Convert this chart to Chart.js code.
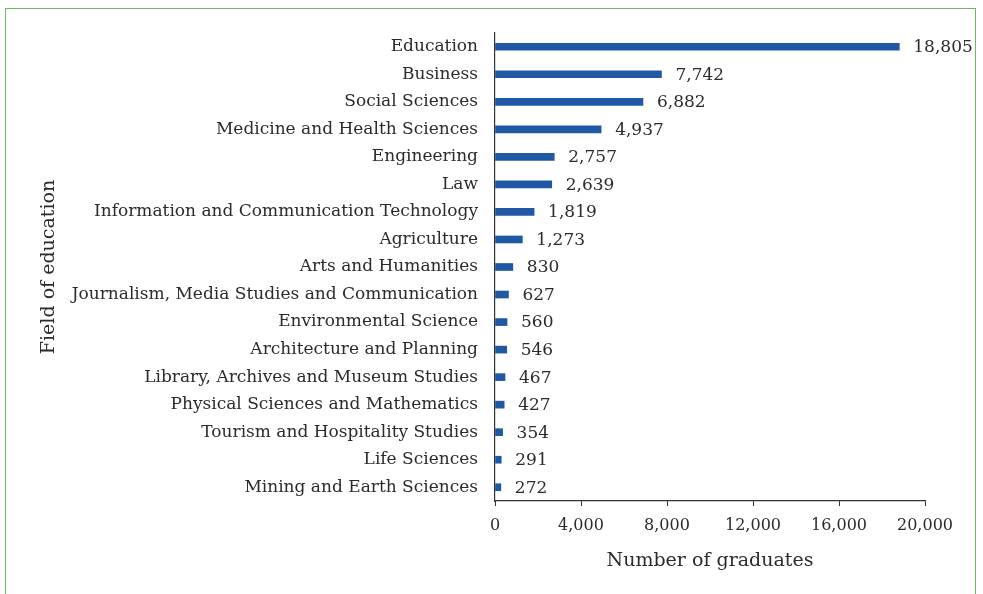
<!DOCTYPE html>
<html>
<head>
<meta charset="utf-8">
<script src="https://cdn.jsdelivr.net/npm/chart.js@4.4.1/dist/chart.umd.min.js"></script>
<style>
html,body{margin:0;padding:0;background:#fff;overflow:hidden}
#wrap{position:relative;width:983px;height:594px}
#frame{position:absolute;left:5px;top:8px;width:971px;height:600px;border:1.5px solid #6cba60;box-sizing:border-box}
canvas{position:absolute;left:0;top:0}
</style>
</head>
<body>
<div id="wrap">
<div id="frame"></div>
<canvas id="c" width="983" height="594"></canvas>
</div>
<script>
const fields = [
  'Education','Business','Social Sciences','Medicine and Health Sciences','Engineering','Law',
  'Information and Communication Technology','Agriculture','Arts and Humanities',
  'Journalism, Media Studies and Communication','Environmental Science','Architecture and Planning',
  'Library, Archives and Museum Studies','Physical Sciences and Mathematics',
  'Tourism and Hospitality Studies','Life Sciences','Mining and Earth Sciences'
]
const graduates = [18805,7742,6882,4937,2757,2639,1819,1273,830,627,560,546,467,427,354,291,272]
const xTicks = [0,4000,8000,12000,16000,20000]

const 字体 = '"DejaVu Serif", "Liberation Serif", serif'
const 文字色 = '#2b2b2b'
const 数字 = v => v.toLocaleString('en-US')

const 数值标签 = {
  id:'数值标签',
  afterDatasetsDraw(chart){
    const ctx = chart.ctx
    const meta = chart.getDatasetMeta(0)
    ctx.save()
    ctx.font = '17px ' + 字体
    ctx.fillStyle = 文字色
    ctx.textAlign = 'left'
    ctx.textBaseline = 'middle'
    meta.data.forEach((bar,i)=>{
      ctx.fillText(数字(graduates[i]), bar.x + 14, bar.y + 1)
    })
    ctx.restore()
  }
}

new Chart(document.getElementById('c'),{
  type:'bar',
  data:{labels:fields,datasets:[{data:graduates,backgroundColor:'#1f58a3',barThickness:7}]},
  options:{
    indexAxis:'y',
    responsive:false,
    animation:false,
    layout:{padding:{left:30,right:58,top:33,bottom:22}},
    plugins:{legend:{display:false},tooltip:{enabled:false}},
    scales:{
      x:{
        min:0,max:20000,
        afterBuildTicks:s=>{s.ticks = xTicks.map(v=>({value:v}))},
        grid:{drawOnChartArea:false,drawTicks:true,tickLength:5,color:'#333'},
        border:{display:true,color:'#333',width:1.2},
        ticks:{padding:10,color:文字色,font:{family:字体,size:16},callback:v=>数字(v),maxRotation:0},
        title:{display:true,text:'Number of graduates',color:文字色,font:{family:字体,size:19},padding:{top:6,bottom:0}},
        afterFit:s=>{s.height = 71}
      },
      y:{
        grid:{display:false,drawTicks:false},
        border:{display:true,color:'#333',width:1.2},
        ticks:{padding:17,color:文字色,font:{family:字体,size:17}},
        title:{display:true,text:'Field of education',color:文字色,font:{family:字体,size:19},padding:{top:8,bottom:0}},
        afterFit:s=>{s.width = 465}
      }
    }
  },
  plugins:[数值标签]
})
</script>
</body>
</html>
